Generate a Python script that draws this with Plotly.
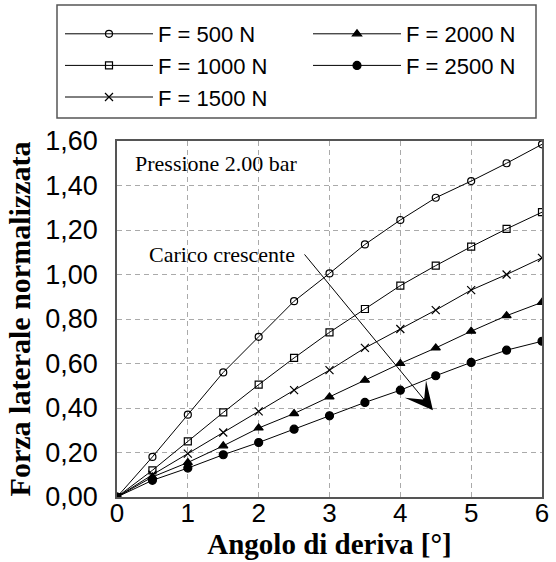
import plotly.graph_objects as go

# Slip angle [deg] and normalized lateral force for each vertical load
angolo = [0, 0.5, 1, 1.5, 2, 2.5, 3, 3.5, 4, 4.5, 5, 5.5, 6]
forza_500 = [0, 0.18, 0.37, 0.56, 0.72, 0.88, 1.005, 1.135, 1.245, 1.345, 1.42, 1.50, 1.585]
forza_1000 = [0, 0.12, 0.25, 0.38, 0.505, 0.625, 0.74, 0.845, 0.95, 1.04, 1.125, 1.205, 1.28]
forza_1500 = [0, 0.10, 0.195, 0.29, 0.385, 0.48, 0.57, 0.67, 0.755, 0.84, 0.93, 1.00, 1.075]
forza_2000 = [0, 0.09, 0.155, 0.23, 0.31, 0.375, 0.45, 0.525, 0.60, 0.67, 0.745, 0.815, 0.875]
forza_2500 = [0, 0.075, 0.13, 0.19, 0.245, 0.305, 0.365, 0.425, 0.48, 0.545, 0.605, 0.66, 0.70]

etichette = ["F = 500 N", "F = 1000 N", "F = 1500 N", "F = 2000 N", "F = 2500 N"]
serie = [forza_500, forza_1000, forza_1500, forza_2000, forza_2500]
simboli = ["circle-open", "square-open", "x-thin-open", "triangle-up", "circle"]
dimensioni = [7, 7, 8, 8, 8]
# legend laid out in two columns, filled column by column
rank_legenda = [1, 3, 5, 2, 4]
larghezza_voce = [145, 145, 145, 120, 120]

# plot area in pixels
W, H = 556, 562
L, R, T, B = 117, 14, 141, 65
pw, ph = W - L - R, H - T - B


def px_x(p):
    return (p - L) / pw


def px_y(p):
    return (H - B - p) / ph


fig = go.Figure()
for nome, y, sym, sz, rk, lw in zip(etichette, serie, simboli, dimensioni,
                                    rank_legenda, larghezza_voce):
    fig.add_trace(go.Scatter(
        x=angolo, y=y, name=nome, mode="lines+markers",
        line=dict(color="black", width=1),
        marker=dict(symbol=sym, size=sz, color="black",
                    line=dict(color="black", width=1.2)),
        legendrank=rk, legendwidth=lw,
    ))

fig.add_annotation(x=0.23, y=1.50, xref="x", yref="y", text="Pressione 2.00 bar",
                   showarrow=False, xanchor="left", yanchor="middle",
                   font=dict(family="Liberation Serif", size=22, color="black"))
fig.add_annotation(x=2.54, y=1.092, xref="x", yref="y", text="Carico crescente",
                   showarrow=False, xanchor="right", yanchor="middle",
                   font=dict(family="Liberation Serif", size=22, color="black"))
# arrow showing increasing load
fig.add_annotation(x=4.46, y=0.39, ax=2.63, ay=1.097, xref="x", yref="y",
                   axref="x", ayref="y", text="", showarrow=True,
                   arrowhead=3, arrowsize=4.6, arrowwidth=1, arrowcolor="black")

# legend frame
fig.add_shape(type="rect", xref="paper", yref="paper",
              x0=px_x(57), x1=px_x(536), y0=px_y(118), y1=px_y(5),
              line=dict(color="#555555", width=1.5), fillcolor="rgba(0,0,0,0)")

asse = dict(showline=True, mirror=True, linecolor="#555555", linewidth=1.5,
            showgrid=True, gridcolor="#aaaaaa", gridwidth=1, griddash="5px,4px",
            zeroline=False, ticks="")

fig.update_xaxes(range=[0, 6], tickvals=[0, 1, 2, 3, 4, 5, 6], ticklabelstandoff=-8,
                 tickfont=dict(family="Liberation Sans", size=26, color="black"),
                 title=dict(text="<b>Angolo di deriva [°]</b>", standoff=5,
                            font=dict(family="Liberation Serif", size=29, color="black")),
                 **asse)
fig.update_yaxes(range=[0, 1.6], tickvals=[0, 0.2, 0.4, 0.6, 0.8, 1.0, 1.2, 1.4, 1.6],
                 tickformat=".2f", ticklabelstandoff=12,
                 tickfont=dict(family="Liberation Sans", size=27, color="black"),
                 title=dict(text="<b>Forza laterale normalizzata</b>", standoff=6,
                            font=dict(family="Liberation Serif", size=30, color="black")),
                 **asse)

fig.update_layout(
    width=W, height=H, separators=",.",
    margin=dict(l=L, r=R, t=T, b=B, autoexpand=False),
    paper_bgcolor="white", plot_bgcolor="white",
    showlegend=True,
    legend=dict(orientation="h", x=px_x(60), y=px_y(13), xanchor="left", yanchor="top",
                itemwidth=88, borderwidth=0, bgcolor="rgba(0,0,0,0)",
                font=dict(family="Liberation Sans", size=22, color="black"),
                traceorder="normal"),
)

fig.write_html("out.html")
